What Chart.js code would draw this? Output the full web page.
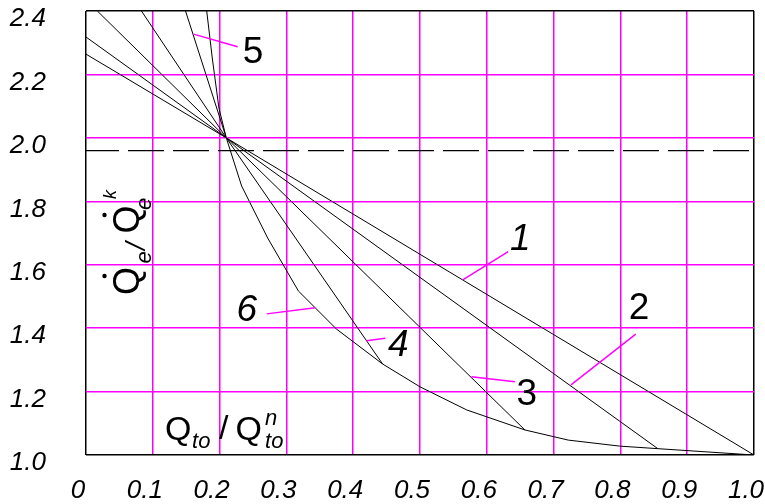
<!DOCTYPE html>
<html>
<head>
<meta charset="utf-8">
<script src="https://cdn.jsdelivr.net/npm/chart.js@4.4.0/dist/chart.umd.min.js"></script>
<style>
  body { margin: 0; background: #fff; }
  #wrap { width: 765px; height: 504px; }
</style>
</head>
<body>
<div id="wrap"><canvas id="chart"></canvas></div>
<script>
// data
const curveLabels = ['1', '2', '3', '4', '5', '6'];

const c1x = [0, 0.21, 1.0];
const c1y = [2.264, 2.0, 1.0];
const c2x = [0, 0.21, 0.856];
const c2y = [2.318, 2.0, 1.02];
const c3x = [0.017, 0.21, 0.657];
const c3y = [2.4, 2.0, 1.079];
const c4x = [0.083, 0.21, 0.444];
const c4y = [2.4, 2.0, 1.287];
const c5x = [0.149, 0.21];
const c5y = [2.4, 2.0];
const c6x = [0.1807, 0.189, 0.199, 0.21, 0.233, 0.272, 0.318, 0.375, 0.444, 0.5, 0.57, 0.657, 0.722, 0.799, 0.856, 1.0];
const c6y = [2.4, 2.252, 2.094, 2.0, 1.848, 1.684, 1.517, 1.397, 1.287, 1.215, 1.142, 1.079, 1.047, 1.028, 1.02, 1.0];

const dashX = [0, 1.0];
const dashY = [1.96, 1.96];

const xTickValues = [0, 0.1, 0.2, 0.3, 0.4, 0.5, 0.6, 0.7, 0.8, 0.9, 1.0];
const yTickValues = [1.0, 1.2, 1.4, 1.6, 1.8, 2.0, 2.2, 2.4];

// label number: [text x, text y, leader from x, y, leader to x, y, italic]
const labelSpots = [
  [0.650, 1.683, 0.632, 1.641, 0.564, 1.552, true],
  [0.828, 1.463, 0.823, 1.381, 0.726, 1.221, false],
  [0.660, 1.192, 0.642, 1.231, 0.577, 1.247, false],
  [0.4675, 1.347, 0.448, 1.368, 0.420, 1.360, true],
  [0.250, 2.272, 0.227, 2.287, 0.161, 2.327, false],
  [0.2406, 1.457, 0.2705, 1.445, 0.343, 1.464, true]
];

const curvesX = [c1x, c2x, c3x, c4x, c5x, c6x];
const curvesY = [c1y, c2y, c3y, c4y, c5y, c6y];

function pts(xs, ys) {
  return xs.map((x, i) => ({ x: x, y: ys[i] }));
}

const datasets = curveLabels.map((lab, i) => ({
  label: lab,
  data: pts(curvesX[i], curvesY[i]),
  borderColor: '#000',
  borderWidth: 1,
  showLine: true,
  pointRadius: 0,
  tension: 0
}));
datasets.push({
  label: 'level',
  data: pts(dashX, dashY),
  borderColor: '#000',
  borderWidth: 1.3,
  borderDash: [36, 9],
  borderDashOffset: 3,
  showLine: true,
  pointRadius: 0
});

const FONT_UP = '"Liberation Sans", Arial, sans-serif';

// numbers on curves and axis titles inside the plot
const notes = {
  id: 'notes',
  afterDatasetsDraw(chart) {
    const ctx = chart.ctx;
    const xs = chart.scales.x, ys = chart.scales.y;
    ctx.save();
    ctx.strokeStyle = '#ff00ff';
    ctx.lineWidth = 1.5;
    labelSpots.forEach((s, i) => {
      ctx.beginPath();
      ctx.moveTo(xs.getPixelForValue(s[2]), ys.getPixelForValue(s[3]));
      ctx.lineTo(xs.getPixelForValue(s[4]), ys.getPixelForValue(s[5]));
      ctx.stroke();
      ctx.fillStyle = '#000';
      ctx.font = (s[6] ? 'italic ' : '') + '37px ' + FONT_UP;
      ctx.textAlign = 'center';
      ctx.textBaseline = 'middle';
      ctx.fillText(curveLabels[i], xs.getPixelForValue(s[0]), ys.getPixelForValue(s[1]) + 1);
    });

    // x title: Q_to / Q_to^n
    ctx.fillStyle = '#000';
    ctx.textAlign = 'left';
    ctx.textBaseline = 'alphabetic';
    let bx = xs.getPixelForValue(0.1183), by = ys.getPixelForValue(1.0473);
    ctx.font = '34px ' + FONT_UP;
    ctx.fillText('Q', bx, by);
    ctx.font = 'italic 22px ' + FONT_UP;
    ctx.fillText('to', bx + 27, by + 8);
    ctx.font = '34px ' + FONT_UP;
    ctx.fillText('/', bx + 54, by - 1);
    ctx.fillText('Q', bx + 70.5, by);
    ctx.font = 'italic 22px ' + FONT_UP;
    ctx.fillText('n', bx + 100, by - 15);
    ctx.fillText('to', bx + 100, by + 8);

    // y title: Qe / Qe^k, rotated, with dots over Q
    ctx.save();
    ctx.translate(xs.getPixelForValue(0.0786), ys.getPixelForValue(1.5045));
    ctx.rotate(-Math.PI / 2);
    ctx.font = '36px ' + FONT_UP;
    ctx.fillText('Q', 0, 0);
    ctx.fillText('Q', 61.5, 0);
    ctx.beginPath();
    ctx.arc(19, -34, 2.2, 0, Math.PI * 2);
    ctx.arc(80, -34, 2.2, 0, Math.PI * 2);
    ctx.fill();
    ctx.font = 'italic 22px ' + FONT_UP;
    ctx.fillText('e', 31.5, 12.8);
    ctx.fillText('e', 85, 12.8);
    ctx.font = 'italic 28px ' + FONT_UP;
    ctx.fillText('/', 45, 6);
    ctx.font = 'italic 18px ' + FONT_UP;
    ctx.fillText('k', 96, -22.5);
    ctx.restore();
    ctx.restore();
  }
};

const tickFont = { family: '"Liberation Sans Narrow", "Liberation Sans", Arial, sans-serif', size: 26, style: 'italic' };

function edgeColor(ctx) {
  const n = ctx.scale.ticks.length;
  return (ctx.index === 0 || ctx.index === n - 1) ? '#000' : '#ff00ff';
}

new Chart(document.getElementById('chart'), {
  type: 'scatter',
  data: { datasets: datasets },
  plugins: [notes],
  options: {
    responsive: true,
    maintainAspectRatio: false,
    animation: false,
    layout: { padding: { top: 11, right: 11, left: 0, bottom: 0 } },
    plugins: { legend: { display: false }, tooltip: { enabled: false } },
    scales: {
      x: {
        type: 'linear',
        min: 0,
        max: 1,
        afterBuildTicks: s => { s.ticks = xTickValues.map(v => ({ value: v })); },
        afterFit: s => { s.height = 49; s.paddingLeft = 0; s.paddingRight = 0; },
        grid: { color: edgeColor, lineWidth: 1.5, drawTicks: false },
        border: { display: false },
        ticks: {
          color: '#000',
          font: tickFont,
          padding: 20,
          labelOffset: -8,
          maxRotation: 0,
          autoSkip: false,
          callback: v => v === 0 ? '0' : v.toFixed(1)
        }
      },
      y: {
        type: 'linear',
        min: 1.0,
        max: 2.4,
        afterBuildTicks: s => { s.ticks = yTickValues.map(v => ({ value: v })); },
        afterFit: s => { s.width = 86; s.paddingTop = 0; s.paddingBottom = 0; },
        grid: { color: edgeColor, lineWidth: 1.5, drawTicks: false },
        border: { display: false },
        ticks: {
          color: '#000',
          font: tickFont,
          padding: 40,
          labelOffset: 8,
          autoSkip: false,
          callback: v => v.toFixed(1)
        }
      }
    }
  }
});
</script>
</body>
</html>
